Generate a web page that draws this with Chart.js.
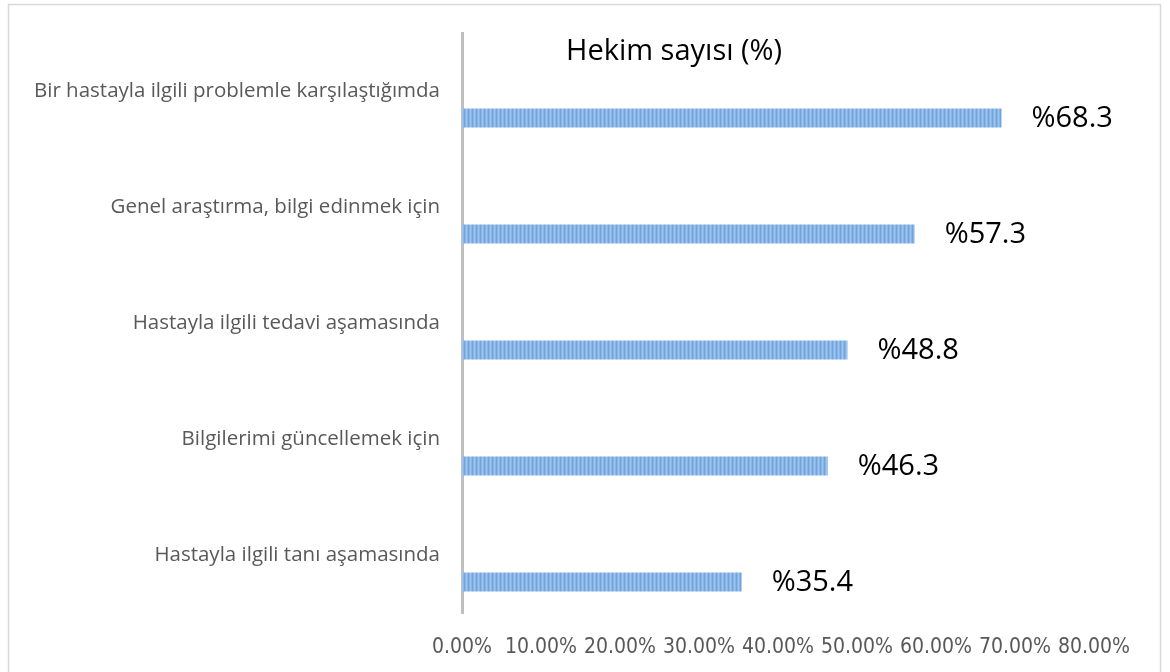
<!DOCTYPE html>
<html>
<head>
<meta charset="utf-8">
<script src="https://cdn.jsdelivr.net/npm/chart.js@4"></script>
<style>
    html, body { margin: 0; padding: 0; background: #fff; }
    #wrap { width: 1170px; height: 672px; }
</style>
</head>
<body>
<div id="wrap"><canvas id="hekimChart" width="1170" height="672"></canvas></div>
<script>
// Chart data
const categories = [
    'Bir hastayla ilgili problemle karşılaştığımda',
    'Genel araştırma, bilgi edinmek için',
    'Hastayla ilgili tedavi aşamasında',
    'Bilgilerimi güncellemek için',
    'Hastayla ilgili tanı aşamasında'
];
const hekimValues = [68.3, 57.3, 48.8, 46.3, 35.4];
const emptySeries = [null, null, null, null, null];
const tickValues = [0, 10, 20, 30, 40, 50, 60, 70, 80];
const titleText = 'Hekim sayısı (%)';

document.addEventListener('DOMContentLoaded', function() {
    const canvas = document.getElementById('hekimChart');
    const ctx = canvas.getContext('2d');

    // Striped fill like the original bars
    const stripe = document.createElement('canvas');
    stripe.width = 4;
    stripe.height = 1;
    const sctx = stripe.getContext('2d');
    const stripeColors = ['#72a3db', '#88b6e7', '#9fc5ee', '#88b6e7'];
    stripeColors.forEach((c, i) => {
        sctx.fillStyle = c;
        sctx.fillRect(i, 0, 1, 1);
    });
    const barPattern = ctx.createPattern(stripe, 'repeat');

    // Frame, title and value labels
    const decorations = {
        id: 'decorations',
        beforeDraw(chart) {
            const c = chart.ctx;
            c.save();
            c.fillStyle = '#ffffff';
            c.fillRect(0, 0, chart.width, chart.height);
            c.strokeStyle = '#d9d9d9';
            c.lineWidth = 1.5;
            c.strokeRect(8.5, 4.5, 1152, 672);
            c.restore();
        },
        afterDatasetsDraw(chart) {
            const c = chart.ctx;
            const area = chart.chartArea;
            c.save();
            c.fillStyle = '#000000';
            c.font = '29px "Open Sans"';
            c.textAlign = 'left';
            c.textBaseline = 'middle';
            c.fillText(titleText, area.left + 104, 52);

            c.font = '29px "Open Sans"';
            const meta = chart.getDatasetMeta(1);
            meta.data.forEach((bar, i) => {
                c.fillText('%' + hekimValues[i].toFixed(1), bar.x + 30, bar.y + 1);
            });
            c.restore();
        }
    };

    new Chart(ctx, {
        type: 'bar',
        data: {
            labels: categories,
            datasets: [
                {
                    label: '',
                    data: emptySeries,
                    backgroundColor: 'rgba(0,0,0,0)'
                },
                {
                    label: titleText,
                    data: hekimValues,
                    backgroundColor: barPattern,
                    borderWidth: 0
                }
            ]
        },
        options: {
            indexAxis: 'y',
            responsive: false,
            animation: false,
            categoryPercentage: 0.93,
            barPercentage: 0.352,
            layout: {
                padding: { top: 33, right: 76, left: 10, bottom: 0 }
            },
            scales: {
                x: {
                    min: 0,
                    max: 80,
                    afterBuildTicks: scale => {
                        scale.ticks = tickValues.map(v => ({ value: v }));
                    },
                    grid: { display: false },
                    border: { display: false },
                    ticks: {
                        color: '#595959',
                        font: { family: '"Liberation Sans Narrow", "DejaVu Sans Condensed", sans-serif', size: 21 },
                        padding: 14,
                        maxRotation: 0,
                        autoSkip: false,
                        callback: value => value.toFixed(2) + '%'
                    },
                    afterFit: scale => { scale.height = 59; }
                },
                y: {
                    grid: { display: false },
                    border: { display: true, color: '#bfbfbf', width: 3 },
                    ticks: {
                        color: '#595959',
                        font: { family: '"Open Sans"', size: 20.5 },
                        padding: 14
                    },
                    afterFit: scale => { scale.width = 452; }
                }
            },
            plugins: {
                legend: { display: false },
                title: { display: false },
                tooltip: { enabled: false }
            }
        },
        plugins: [decorations]
    });
});
</script>
</body>
</html>
